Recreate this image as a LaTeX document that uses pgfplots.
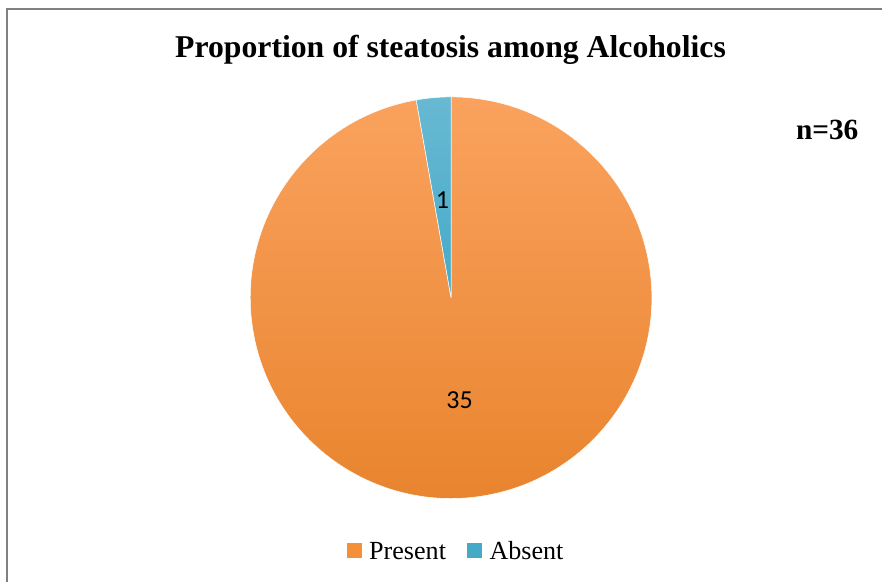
\documentclass[border=0pt]{standalone}
\usepackage{pgfplots}
\pgfplotsset{compat=1.18}
\usepackage{pgfplotstable}
\usepackage{fontspec}
\setmainfont{Liberation Serif}
\newfontfamily\calibri{Carlito}

\definecolor{orTop}{RGB}{250,162,94}
\definecolor{orBot}{RGB}{232,131,44}
\definecolor{blTop}{RGB}{104,185,210}
\definecolor{blBot}{RGB}{70,170,200}
\definecolor{orLeg}{RGB}{244,144,58}
\definecolor{blLeg}{RGB}{70,170,198}
\definecolor{frameC}{RGB}{128,128,128}

\pgfplotstableread{
label value
Present 35
Absent 1
}\piedata

\begin{document}
\begin{tikzpicture}
\pgfplotstablegetelem{0}{value}\of\piedata \let\vPresent\pgfplotsretval
\pgfplotstablegetelem{1}{value}\of\piedata \let\vAbsent\pgfplotsretval
\pgfmathsetmacro\total{\vPresent+\vAbsent}
\pgfmathsetmacro\aAbs{90+360*\vAbsent/\total}
\begin{axis}[
  x=0.75pt, y=0.75pt,
  xmin=0, xmax=883, ymin=0, ymax=583,
  hide axis, clip=false,
  legend columns=-1,
  legend style={at={(axis cs:457,31)}, anchor=center, draw=none, fill=none,
    font=\fontsize{19.6}{22}\selectfont,
    /tikz/every even column/.append style={column sep=14pt},
    nodes={inner sep=2pt}},
]
\path (axis cs:0,0) rectangle (axis cs:883,583);
% frame (left and top)
\draw[frameC, line width=1.3pt] (axis cs:7,0) -- (axis cs:7,574) -- (axis cs:883,574);
% slices
\shade[top color=orTop, bottom color=orBot, draw=white, line width=0.4pt]
  (axis cs:451.5,285) -- ++(\aAbs:150.75pt) arc[start angle=\aAbs, end angle=450, radius=150.75pt] -- cycle;
\shade[top color=blTop, bottom color=blBot, draw=white, line width=0.4pt]
  (axis cs:451.5,285) -- ++(90:150.75pt) arc[start angle=90, end angle=\aAbs, radius=150.75pt] -- cycle;
% data labels
\node[font=\calibri\fontsize{19.5}{22}\selectfont] at (axis cs:443,383) {\vAbsent};
\node[font=\calibri\fontsize{19.5}{22}\selectfont] at (axis cs:460,182) {\vPresent};
% title and n
\node[anchor=base, font=\bfseries\fontsize{23.8}{28}\selectfont] at (axis cs:451,525) {Proportion of steatosis among Alcoholics};
\node[anchor=base, font=\bfseries\fontsize{22}{26}\selectfont] at (axis cs:828,443.5) {n=36};
% legend
\addlegendimage{legend image code/.code={\fill[orLeg] (0pt,-4.5pt) rectangle (10.5pt,6pt); \path (14.25pt,0pt);}}
\addlegendentry{Present}
\addlegendimage{legend image code/.code={\fill[blLeg] (0pt,-4.5pt) rectangle (10.5pt,6pt); \path (14.25pt,0pt);}}
\addlegendentry{Absent}
\end{axis}
\end{tikzpicture}
\end{document}
